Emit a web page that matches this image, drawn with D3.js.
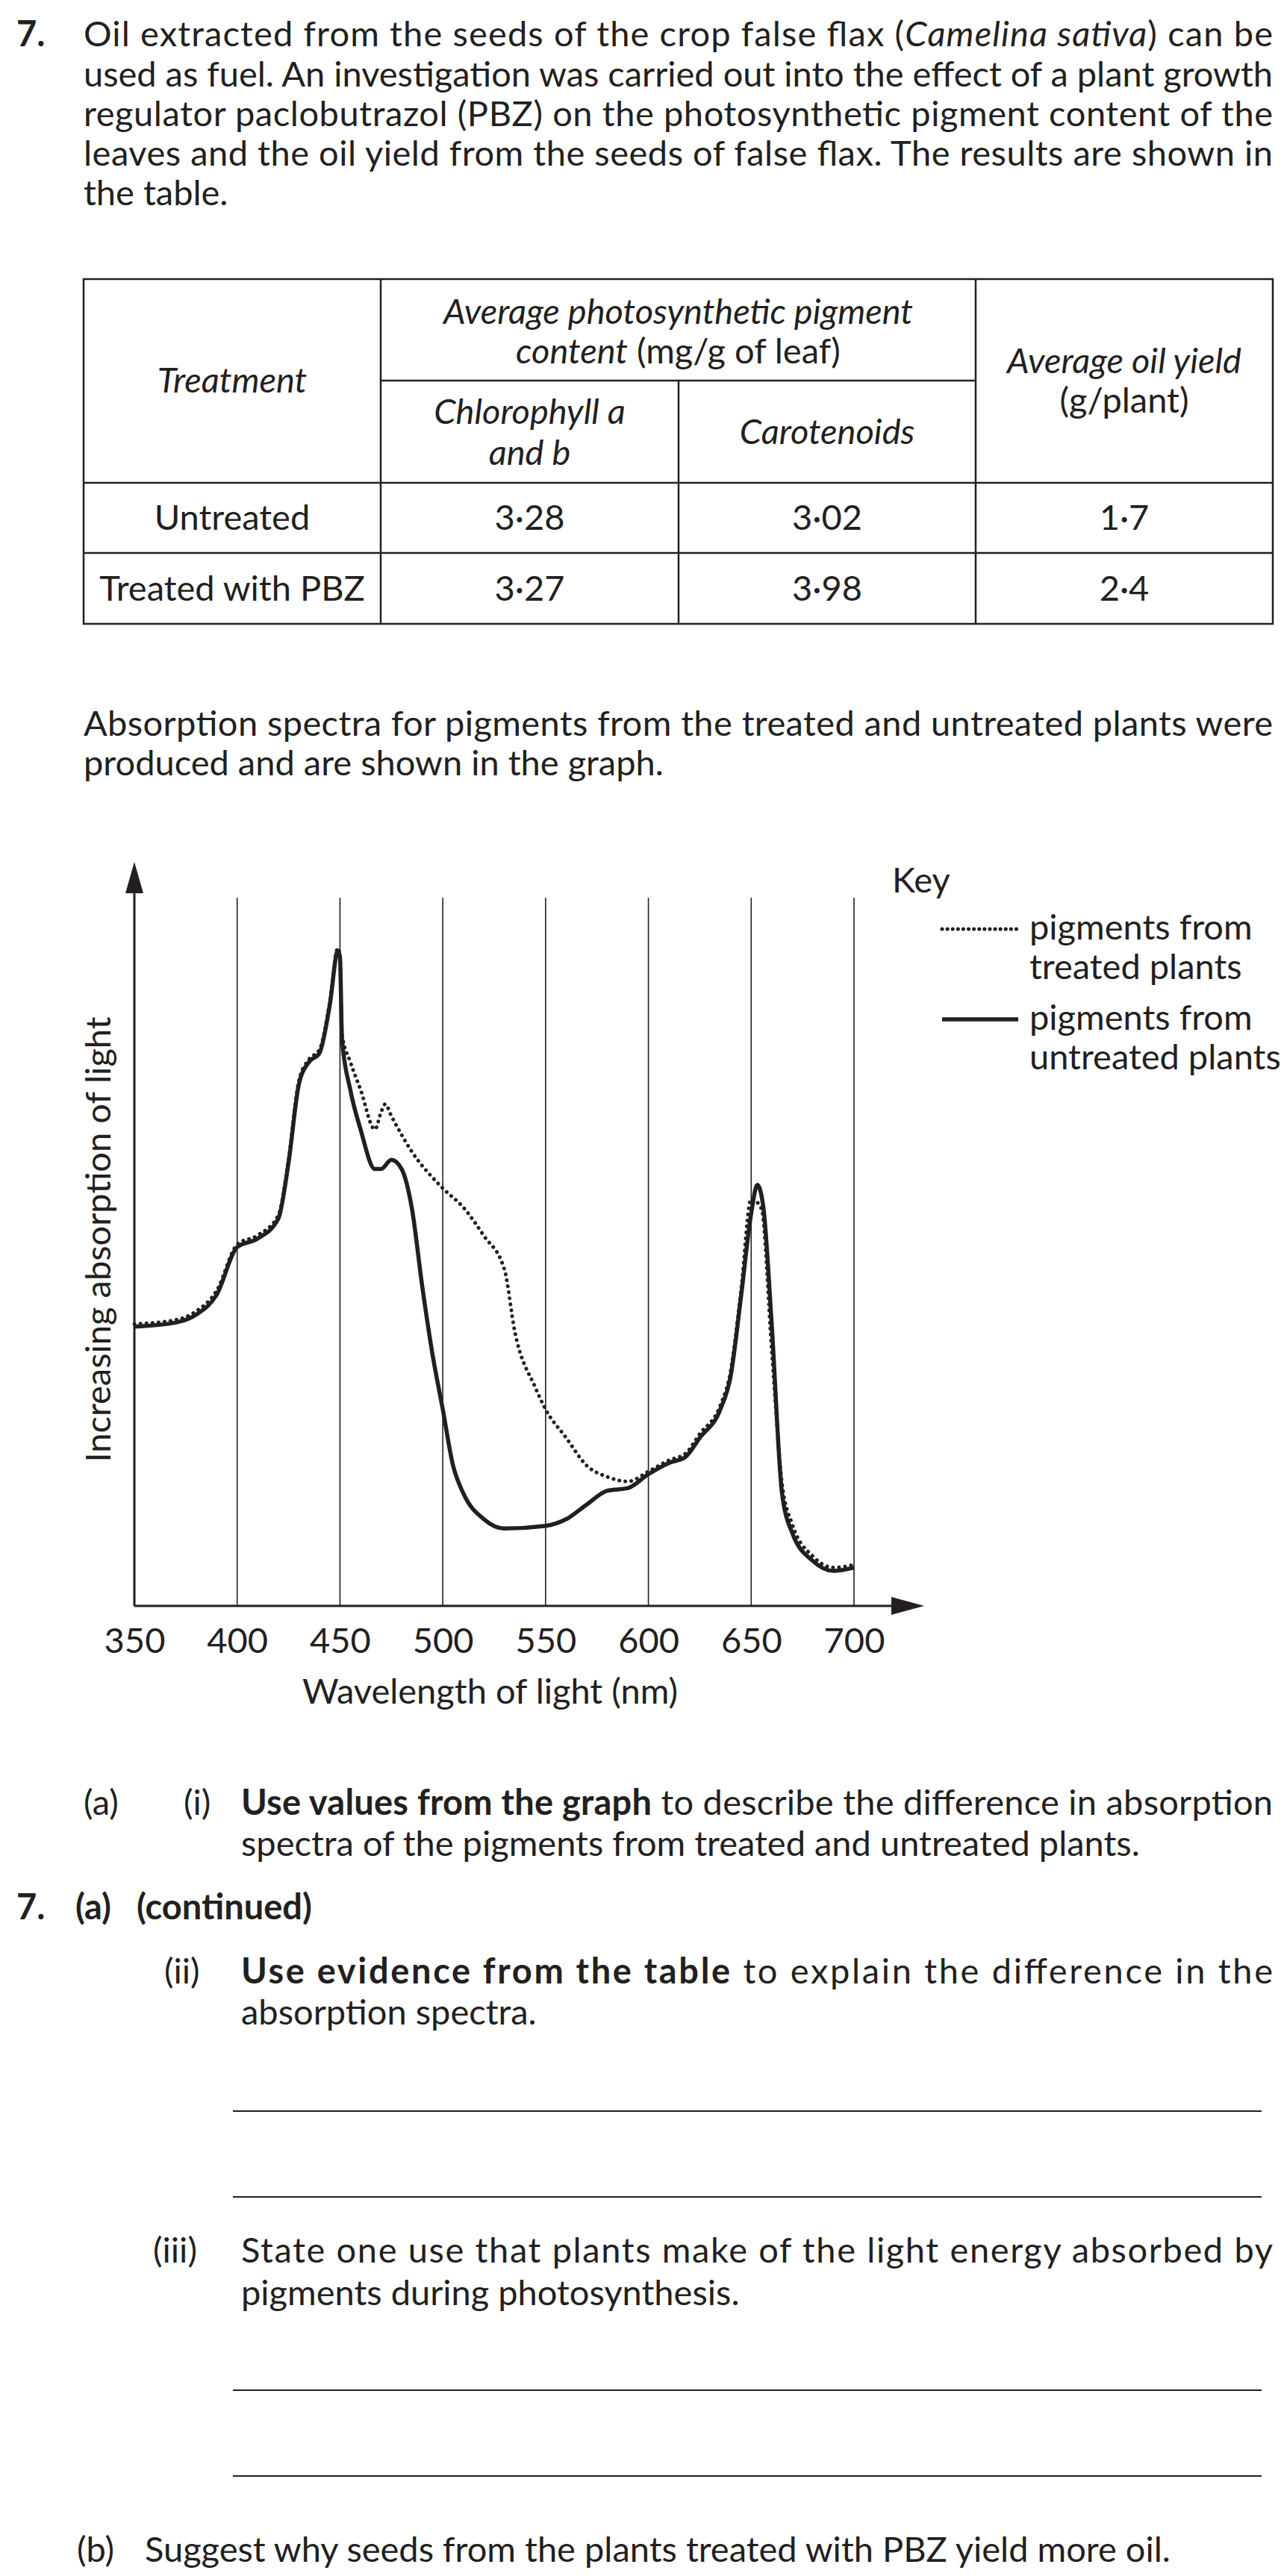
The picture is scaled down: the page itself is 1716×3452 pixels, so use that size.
<!DOCTYPE html>
<html lang="en">
<head>
<meta charset="UTF-8">
<title>Question 7</title>
<script src="https://cdnjs.cloudflare.com/ajax/libs/d3/7.8.5/d3.js"></script>
<style>
  body { margin: 0; background: #fff; }
  svg { font-family: Lato, "Open Sans", sans-serif; fill: #231f20; }
</style>
</head>
<body>
<svg width="1716" height="3452"></svg>
<script>
// ---- data ----
const wavelengthTicks = [350, 400, 450, 500, 550, 600, 650, 700];
const gridLines = [400, 450, 500, 550, 600, 650, 700];

// untreated plants (solid), absorption in arbitrary units (0 = axis)
const untreatedNm  = [350, 370, 380, 390, 400, 410, 420, 425, 430, 435, 440, 445, 449, 450, 451, 455, 460, 467, 470, 475, 480, 485, 490, 495, 500, 505, 510, 520, 530, 550, 560, 570, 580, 590, 600, 610, 618, 625, 635, 640, 645, 650, 653, 656, 660, 665, 670, 680, 690, 700];
const untreatedAbs = [42.2, 42.8, 44, 47, 54.2, 55.5, 58.5, 67, 78.8, 82.2, 83.5, 90.7, 99, 98, 85.6, 78, 72, 66, 66, 67.4, 66, 60, 48.3, 38, 29.7, 21.2, 17, 13.1, 11.7, 12.1, 13.1, 15.3, 17.4, 17.8, 19.9, 21.6, 22.5, 25.4, 29.7, 34.7, 46.6, 59.3, 63.6, 60, 42.4, 17, 11, 6.8, 5.3, 5.8];

// treated plants (dotted)
const treatedNm  = [350, 370, 380, 390, 400, 410, 420, 425, 430, 435, 440, 445, 449, 450, 451, 455, 460, 467, 470, 472, 475, 485, 500, 510, 520, 530, 535, 545, 550, 560, 570, 580, 590, 600, 610, 618, 625, 635, 640, 645, 650, 655, 660, 665, 670, 680, 690, 700];
const treatedAbs = [42.6, 43.2, 44.5, 47.6, 54.6, 56, 59, 67.5, 79.3, 82.6, 84, 91.2, 99.4, 98, 86.4, 82.2, 78, 72, 74.6, 75.8, 74, 68.6, 63.1, 60.2, 55.9, 50.8, 41.5, 33, 29.7, 25.4, 21.2, 19.5, 18.8, 20.3, 22, 23, 26, 30.3, 35.5, 47.5, 61.5, 60, 38.5, 18.5, 12.3, 7.5, 5.8, 6.2];

// table
const tableRows = ["Untreated", "Treated with PBZ"];
const chlorophyll = ["3·28", "3·27"];
const carotenoids = ["3·02", "3·98"];
const oilYield = ["1·7", "2·4"];

const svg = d3.select("svg");
const FS = 47;
const LEFT = 112, RIGHT = 1705;

// justified line helper
function line(x, y, str, justify, opts = {}) {
  const t = svg.append("text").attr("x", x).attr("y", y).attr("font-size", opts.size || FS);
  if (justify) t.attr("textLength", RIGHT - x).attr("lengthAdjust", "spacing");
  if (opts.bold) t.attr("font-weight", "bold");
  if (opts.anchor) t.attr("text-anchor", opts.anchor);
  if (Array.isArray(str)) {
    str.forEach(p => {
      const s = t.append("tspan").text(p.t);
      if (p.i) s.attr("font-style", "italic");
      if (p.b) s.attr("font-weight", "bold");
    });
  } else t.text(str);
  return t;
}

// ---- intro paragraph ----
line(22, 62, "7.", false, {bold: true});
line(LEFT, 62, [{t: "Oil extracted from the seeds of the crop false flax ("}, {t: "Camelina sativa", i: true}, {t: ") can be"}], true);
line(LEFT, 116, "used as fuel. An investigation was carried out into the effect of a plant growth", true);
line(LEFT, 169, "regulator paclobutrazol (PBZ) on the photosynthetic pigment content of the", true);
line(LEFT, 222, "leaves and the oil yield from the seeds of false flax. The results are shown in", true);
line(LEFT, 275, "the table.", false);

// ---- table ----
const colX = [112, 510, 909, 1307, 1705];
const rowY = [374, 510, 647, 741, 836];
const tg = svg.append("g").attr("stroke", "#231f20").attr("stroke-width", 2.5);
tg.append("rect").attr("x", colX[0]).attr("y", rowY[0]).attr("width", colX[4] - colX[0]).attr("height", rowY[4] - rowY[0]).attr("fill", "none");
[colX[1], colX[3]].forEach(x => tg.append("line").attr("x1", x).attr("x2", x).attr("y1", rowY[0]).attr("y2", rowY[4]));
tg.append("line").attr("x1", colX[2]).attr("x2", colX[2]).attr("y1", rowY[1]).attr("y2", rowY[4]);
tg.append("line").attr("x1", colX[1]).attr("x2", colX[3]).attr("y1", rowY[1]).attr("y2", rowY[1]);
[rowY[2], rowY[3]].forEach(y => tg.append("line").attr("x1", colX[0]).attr("x2", colX[4]).attr("y1", y).attr("y2", y));

const mid = i => (colX[i] + colX[i + 1]) / 2;
line(mid(0), 526, [{t: "Treatment", i: true}], false, {anchor: "middle"});
line((colX[1] + colX[3]) / 2, 434, [{t: "Average photosynthetic pigment", i: true}], false, {anchor: "middle"});
line((colX[1] + colX[3]) / 2, 487, [{t: "content", i: true}, {t: " (mg/g of leaf)"}], false, {anchor: "middle"});
line(mid(1), 568, [{t: "Chlorophyll a", i: true}], false, {anchor: "middle"});
line(mid(1), 623, [{t: "and b", i: true}], false, {anchor: "middle"});
line(mid(2), 595, [{t: "Carotenoids", i: true}], false, {anchor: "middle"});
line(mid(3), 500, [{t: "Average oil yield", i: true}], false, {anchor: "middle"});
line(mid(3), 553, "(g/plant)", false, {anchor: "middle"});
tableRows.forEach((r, i) => {
  const y = (rowY[2 + i] + rowY[3 + i]) / 2 + 16;
  line(mid(0), y, r, false, {anchor: "middle"});
  line(mid(1), y, chlorophyll[i], false, {anchor: "middle"});
  line(mid(2), y, carotenoids[i], false, {anchor: "middle"});
  line(mid(3), y, oilYield[i], false, {anchor: "middle"});
});

line(LEFT, 986, "Absorption spectra for pigments from the treated and untreated plants were", true);
line(LEFT, 1039, "produced and are shown in the graph.", false);

// ---- graph ----
const x = d3.scaleLinear().domain([350, 700]).range([180, 1144]);
const y = d3.scaleLinear().domain([0, 100]).range([2152, 1265]);
const g = svg.append("g");

g.selectAll(".grid").data(gridLines).join("line")
  .attr("x1", d => x(d)).attr("x2", d => x(d))
  .attr("y1", 1203).attr("y2", y(0))
  .attr("stroke", "#231f20").attr("stroke-width", 1.6);

// axes with arrows
g.append("line").attr("x1", x(350)).attr("x2", 1200).attr("y1", y(0)).attr("y2", y(0)).attr("stroke", "#231f20").attr("stroke-width", 3);
g.append("line").attr("x1", x(350)).attr("x2", x(350)).attr("y1", y(0)).attr("y2", 1190).attr("stroke", "#231f20").attr("stroke-width", 3);
g.append("path").attr("d", `M${x(350)},1155 L${x(350) - 12},1197 L${x(350) + 12},1197 Z`).attr("fill", "#231f20");
g.append("path").attr("d", `M1238,${y(0)} L1194,${y(0) - 12} L1194,${y(0) + 12} Z`).attr("fill", "#231f20");

const xAxis = d3.axisBottom(x).tickValues(wavelengthTicks).tickSize(0).tickPadding(30);
const ax = g.append("g").attr("transform", `translate(0,${y(0)})`).call(xAxis);
ax.select(".domain").remove();
ax.selectAll("text").attr("font-size", FS).attr("font-family", "Lato, sans-serif").attr("fill", "#231f20");

line(x(523), 2283, "Wavelength of light (nm)", false, {anchor: "middle"});
svg.append("text").attr("transform", "translate(148,1661) rotate(-90)")
  .attr("text-anchor", "middle").attr("font-size", FS).text("Increasing absorption of light");

const lineGen = d3.line().x(d => x(d[0])).y(d => y(d[1])).curve(d3.curveMonotoneX);
g.append("path").datum(d3.zip(treatedNm, treatedAbs)).attr("d", lineGen)
  .attr("fill", "none").attr("stroke", "#231f20").attr("stroke-width", 5)
  .attr("stroke-dasharray", "0.1 8").attr("stroke-linecap", "round");
g.append("path").datum(d3.zip(untreatedNm, untreatedAbs)).attr("d", lineGen)
  .attr("fill", "none").attr("stroke", "#231f20").attr("stroke-width", 5.5)
  .attr("stroke-linejoin", "round");

// key
line(1195, 1196, "Key", false);
svg.append("line").attr("x1", 1262).attr("x2", 1364).attr("y1", 1245).attr("y2", 1245)
  .attr("stroke", "#231f20").attr("stroke-width", 5).attr("stroke-dasharray", "0.1 7").attr("stroke-linecap", "round");
line(1379, 1259, "pigments from", false);
line(1379, 1312, "treated plants", false);
svg.append("line").attr("x1", 1262).attr("x2", 1364).attr("y1", 1366).attr("y2", 1366)
  .attr("stroke", "#231f20").attr("stroke-width", 5.5);
line(1379, 1380, "pigments from", false);
line(1379, 1433, "untreated plants", false);

// ---- questions ----
line(112, 2432, "(a)", false);
line(246, 2432, "(i)", false);
line(323, 2432, [{t: "Use values from the graph", b: true}, {t: " to describe the difference in absorption"}], true);
line(323, 2487, "spectra of the pigments from treated and untreated plants.", false);

line(22, 2572, "7.", false, {bold: true});
line(101, 2572, "(a)", false, {bold: true});
line(183, 2572, "(continued)", false, {bold: true});

line(220, 2658, "(ii)", false);
line(323, 2658, [{t: "Use evidence from the table", b: true}, {t: " to explain the difference in the"}], true);
line(323, 2713, "absorption spectra.", false);

const answerLines = [2829, 2944, 3203, 3318];
svg.selectAll(".ans").data(answerLines).join("line")
  .attr("x1", 312).attr("x2", 1690).attr("y1", d => d).attr("y2", d => d)
  .attr("stroke", "#231f20").attr("stroke-width", 1.8);

line(205, 3032, "(iii)", false);
line(323, 3032, "State one use that plants make of the light energy absorbed by", true);
line(323, 3089, "pigments during photosynthesis.", false);

line(103, 3433, "(b)", false);
line(194, 3433, "Suggest why seeds from the plants treated with PBZ yield more oil.", false);
</script>
</body>
</html>
